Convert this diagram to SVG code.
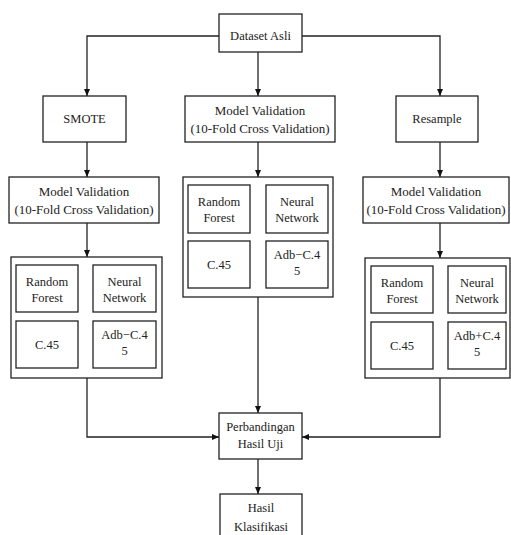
<svg xmlns="http://www.w3.org/2000/svg" width="511" height="535" viewBox="0 0 511 535">
<defs>
<marker id="arr" markerUnits="userSpaceOnUse" markerWidth="7" markerHeight="6" refX="7" refY="3" orient="auto">
<path d="M0,0 L7,3 L0,6 z" fill="#111"/>
</marker>
<style>
.box{fill:#fff;stroke:#222;stroke-width:1.3}
.t{font-family:'Liberation Serif','DejaVu Serif',serif;font-size:12.5px;fill:#222;text-anchor:middle}
.tm{font-size:13px}
.c{fill:none;stroke:#222;stroke-width:1.3;marker-end:url(#arr)}
</style>
</defs>
<rect width="511" height="535" fill="#fff"/>
<g id="connectors">
<path class="c" d="M219,36 H87 V96"/>
<path class="c" d="M302,36 H440 V96"/>
<path class="c" d="M258,52 V96"/>
<path class="c" d="M87,142 V177"/>
<path class="c" d="M258,142 V177"/>
<path class="c" d="M440,142 V177"/>
<path class="c" d="M87,223 V257"/>
<path class="c" d="M440,223 V258"/>
<path class="c" d="M87,378 V437 H219"/>
<path class="c" d="M258,297 V413"/>
<path class="c" d="M440,378 V437 H302"/>
<path class="c" d="M258,459 V494"/>
</g>
<g id="dataset">
<rect class="box" x="219" y="14" width="83" height="38"/>
<text class="t" x="260.5" y="40">Dataset Asli</text>
</g>
<g id="smote">
<rect class="box" x="43" y="96" width="83" height="46"/>
<text class="t" x="84.5" y="123">SMOTE</text>
</g>
<g id="mv-mid">
<rect class="box" x="185" y="96" width="150" height="46"/>
<text class="t tm" x="260" y="115">Model Validation</text>
<text class="t tm" x="260" y="133">(10-Fold Cross Validation)</text>
</g>
<g id="resample">
<rect class="box" x="396" y="96" width="82" height="46"/>
<text class="t" x="437" y="123">Resample</text>
</g>
<g id="mv-left">
<rect class="box" x="9" y="177" width="150" height="46"/>
<text class="t tm" x="84" y="196">Model Validation</text>
<text class="t tm" x="84" y="214">(10-Fold Cross Validation)</text>
</g>
<g id="mv-right">
<rect class="box" x="363" y="177" width="146" height="46"/>
<text class="t tm" x="436" y="196">Model Validation</text>
<text class="t tm" x="436" y="214">(10-Fold Cross Validation)</text>
</g>
<g id="algo-left">
<rect class="box" x="11" y="257" width="151" height="121"/>
<rect class="box" x="16" y="265" width="62" height="47"/>
<text class="t" x="47" y="286">Random</text>
<text class="t" x="47" y="302">Forest</text>
<rect class="box" x="93" y="265" width="63" height="47"/>
<text class="t" x="124.5" y="286">Neural</text>
<text class="t" x="124.5" y="302">Network</text>
<rect class="box" x="16" y="321" width="62" height="47"/>
<text class="t" x="47" y="349">C.45</text>
<rect class="box" x="93" y="321" width="63" height="47"/>
<text class="t" x="124.5" y="339">Adb−C.4</text>
<text class="t" x="124.5" y="355">5</text>
</g>
<g id="algo-mid">
<rect class="box" x="183" y="177" width="150" height="120"/>
<rect class="box" x="188" y="185" width="62" height="48"/>
<text class="t" x="219" y="206">Random</text>
<text class="t" x="219" y="222">Forest</text>
<rect class="box" x="266" y="185" width="62" height="48"/>
<text class="t" x="297" y="206">Neural</text>
<text class="t" x="297" y="222">Network</text>
<rect class="box" x="188" y="241" width="62" height="47"/>
<text class="t" x="219" y="269">C.45</text>
<rect class="box" x="266" y="241" width="62" height="47"/>
<text class="t" x="297" y="259">Adb−C.4</text>
<text class="t" x="297" y="275">5</text>
</g>
<g id="algo-right">
<rect class="box" x="365" y="258" width="145" height="120"/>
<rect class="box" x="371" y="266" width="62" height="47"/>
<text class="t" x="402" y="287">Random</text>
<text class="t" x="402" y="303">Forest</text>
<rect class="box" x="448" y="266" width="58" height="47"/>
<text class="t" x="477" y="287">Neural</text>
<text class="t" x="477" y="303">Network</text>
<rect class="box" x="371" y="322" width="62" height="47"/>
<text class="t" x="402" y="350">C.45</text>
<rect class="box" x="448" y="322" width="58" height="47"/>
<text class="t" x="477" y="340">Adb+C.4</text>
<text class="t" x="477" y="356">5</text>
</g>
<g id="perbandingan">
<rect class="box" x="219" y="413" width="83" height="46"/>
<text class="t" x="260.5" y="431">Perbandingan</text>
<text class="t" x="260.5" y="448">Hasil Uji</text>
</g>
<g id="hasil">
<rect class="box" x="220" y="494" width="82" height="50"/>
<text class="t" x="261" y="512">Hasil</text>
<text class="t" x="261" y="531">Klasifikasi</text>
</g>
</svg>
